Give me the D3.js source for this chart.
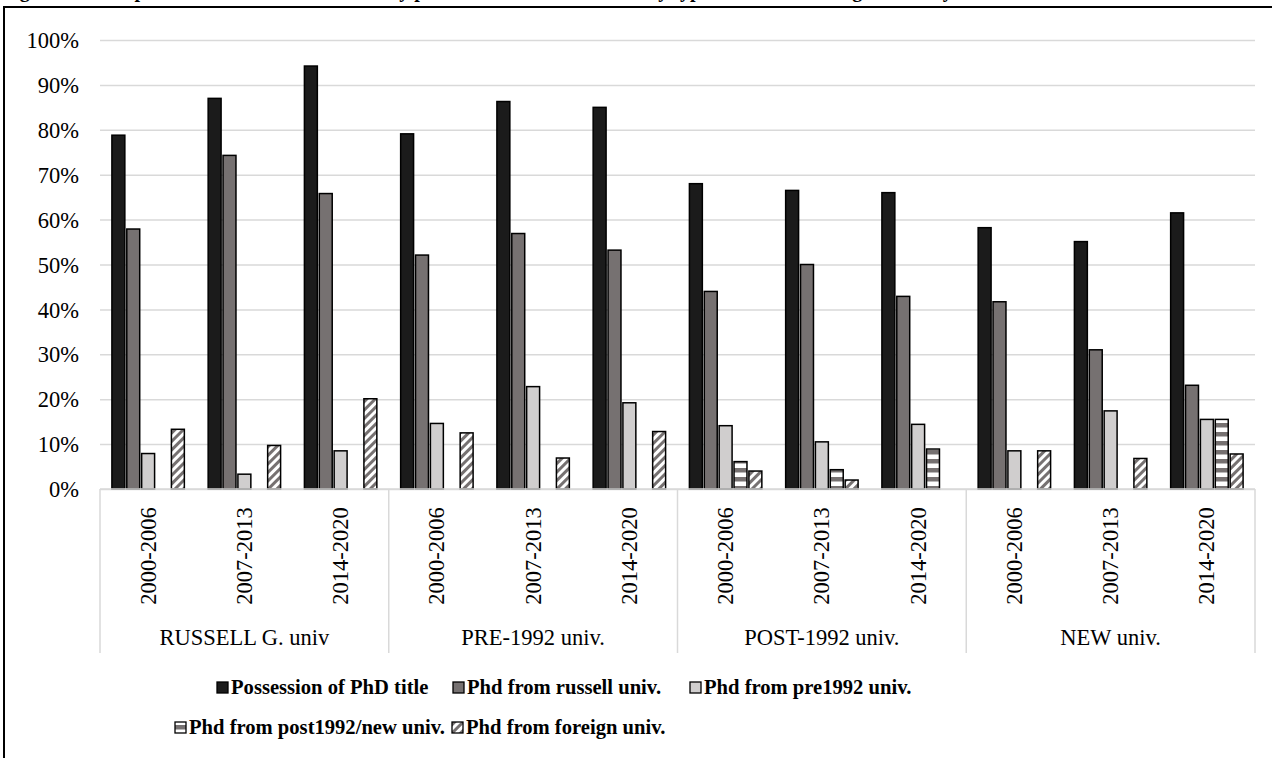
<!DOCTYPE html>
<html>
<head>
<meta charset="utf-8">
<script src="https://cdn.jsdelivr.net/npm/d3@7"></script>
<style>
  html, body { margin: 0; padding: 0; background: #fff; }
  svg { display: block; }
  text { font-family: "Liberation Serif", "Times New Roman", serif; fill: #000; }
</style>
</head>
<body>
<svg id="chart" width="1272" height="758"></svg>
<script>
// University groups and recruitment periods
const groups = ["RUSSELL G. univ", "PRE-1992 univ.", "POST-1992 univ.", "NEW univ."];
const periods = ["2000-2006", "2007-2013", "2014-2020"];

// Series names (legend order)
const seriesNames = [
  "Possession of PhD title",
  "Phd from russell univ.",
  "Phd from pre1992 univ.",
  "Phd from post1992/new univ.",
  "Phd from foreign univ."
];

// Shares (%) per group x period, in the order of `groups` then `periods`
const phdTitle     = [78.8, 87.0, 94.2,  79.1, 86.3, 85.0,  68.0, 66.5, 66.0,  58.2, 55.1, 61.5];
const phdRussell   = [57.9, 74.3, 65.8,  52.1, 56.9, 53.2,  44.0, 50.0, 42.9,  41.7, 31.0, 23.1];
const phdPre1992   = [ 7.9,  3.3,  8.5,  14.6, 22.8, 19.2,  14.1, 10.5, 14.4,   8.5, 17.4, 15.5];
const phdPost1992  = [ 0,    0,    0,     0,    0,    0,     6.1,  4.3,  8.9,   0,    0,   15.5];
const phdForeign   = [13.3,  9.7, 20.1,  12.5,  6.9, 12.8,   4.0,  2.0,  0,     8.5,  6.8,  7.8];

const yTicks = [0, 10, 20, 30, 40, 50, 60, 70, 80, 90, 100];

const seriesValues = [phdTitle, phdRussell, phdPre1992, phdPost1992, phdForeign];
const fills = ["#1b1b1b", "#767171", "#d0cece", "url(#hstripe)", "url(#dstripe)"];

const svg = d3.select("#chart");

// patterns for the striped series
const defs = svg.append("defs");
const hp = defs.append("pattern").attr("id", "hstripe")
  .attr("patternUnits", "userSpaceOnUse").attr("width", 8).attr("height", 9);
hp.append("rect").attr("width", 8).attr("height", 9).attr("fill", "#fff");
hp.append("rect").attr("y", 0).attr("width", 8).attr("height", 4.5).attr("fill", "#767171");

const dp = defs.append("pattern").attr("id", "dstripe")
  .attr("patternUnits", "userSpaceOnUse").attr("width", 6).attr("height", 6)
  .attr("patternTransform", "rotate(45)");
dp.append("rect").attr("width", 6).attr("height", 6).attr("fill", "#fff");
dp.append("rect").attr("width", 3).attr("height", 6).attr("fill", "#767171");

// caption line above the frame (only its descenders fall inside the page)
svg.append("text")
  .attr("x", 2).attr("y", -3)
  .style("font-weight", "bold").style("font-size", "20px")
  .text("Figure 4 – Composition of the academic staff by possession of PhD title and by type of PhD-awarding university");

// outer frame
svg.append("path")
  .attr("d", "M4,760 L4,7 L1274,7")
  .attr("fill", "none").attr("stroke", "#000").attr("stroke-width", 2);

const plotLeft = 100, plotRight = 1255, plotTop = 40, plotBottom = 489;

const y = d3.scaleLinear().domain([0, 100]).range([plotBottom, plotTop]);

const rows = [];
groups.forEach((g, gi) => periods.forEach((p, pi) => rows.push({ g, p, i: gi * periods.length + pi })));

const x0 = d3.scaleBand().domain(rows.map(r => r.i)).range([plotLeft, plotRight]).padding(0);
const xg = d3.scaleBand().domain(groups).range([plotLeft, plotRight]).padding(0);
const x1 = d3.scaleBand().domain(d3.range(seriesNames.length))
  .range([0, x0.bandwidth()]).paddingInner(0.13).paddingOuter(0.8);

// horizontal gridlines and y labels
const yAxis = d3.axisLeft(y).tickValues(yTicks).tickFormat(d => d + "%")
  .tickSize(-(plotRight - plotLeft)).tickPadding(21);
const ya = svg.append("g").attr("transform", `translate(${plotLeft},0)`).call(yAxis);
ya.select(".domain").remove();
ya.selectAll(".tick line").attr("stroke", "#d9d9d9").attr("stroke-width", 1.5);
ya.selectAll(".tick text")
  .style("font-family", "'Liberation Serif', 'Times New Roman', serif")
  .style("font-size", "22.5px").attr("fill", "#000").attr("dy", "0.34em");

// bars
const bars = svg.append("g");
rows.forEach(r => {
  seriesValues.forEach((vals, si) => {
    const v = vals[r.i];
    if (!v) return;
    bars.append("rect")
      .attr("x", x0(r.i) + x1(si))
      .attr("width", x1.bandwidth())
      .attr("y", y(v))
      .attr("height", y(0) - y(v))
      .attr("fill", fills[si])
      .attr("stroke", "#000")
      .attr("stroke-width", 1.5);
  });
});

// category axis: baseline and group separators
const axisColor = "#d9d9d9";
svg.append("line")
  .attr("x1", plotLeft).attr("x2", plotRight)
  .attr("y1", y(0)).attr("y2", y(0))
  .attr("stroke", axisColor).attr("stroke-width", 1.5);

const seps = groups.map(g => xg(g)).concat([plotRight]);
svg.append("g").selectAll("line").data(seps).join("line")
  .attr("x1", d => d).attr("x2", d => d)
  .attr("y1", y(0)).attr("y2", 653)
  .attr("stroke", axisColor).attr("stroke-width", 1.5);

// period labels (rotated)
svg.append("g").selectAll("text").data(rows).join("text")
  .attr("transform", d => `translate(${x0(d.i) + x0.bandwidth() / 2},556) rotate(-90)`)
  .attr("text-anchor", "middle").attr("dy", "0.33em")
  .style("font-size", "22.5px")
  .text(d => d.p);

// group labels
svg.append("g").selectAll("text").data(groups).join("text")
  .attr("x", d => xg(d) + xg.bandwidth() / 2)
  .attr("y", 645)
  .attr("text-anchor", "middle")
  .style("font-size", "22.5px")
  .text(d => d);

// legend: two centred rows
const legendPos = [
  { x: 231, y: 694 }, { x: 467, y: 694 }, { x: 704, y: 694 },
  { x: 189, y: 734 }, { x: 466, y: 734 }
];
const lg = svg.append("g").selectAll("g").data(seriesNames).join("g")
  .attr("transform", (d, i) => `translate(${legendPos[i].x},${legendPos[i].y})`);
lg.append("rect")
  .attr("x", -14).attr("y", -12).attr("width", 11).attr("height", 11)
  .attr("fill", (d, i) => fills[i]).attr("stroke", "#000").attr("stroke-width", 1.3);
lg.append("text")
  .style("font-size", "20.6px").style("font-weight", "bold")
  .text(d => d);
</script>
</body>
</html>
